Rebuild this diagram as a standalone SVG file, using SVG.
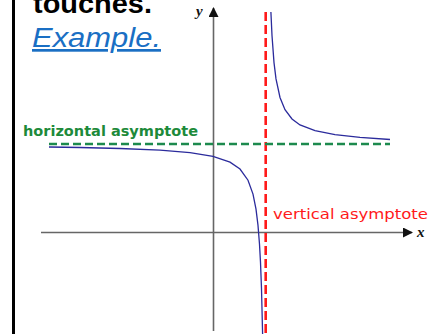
<svg xmlns="http://www.w3.org/2000/svg" width="441" height="334" viewBox="0 0 441 334">
<defs>
<style>
.axis{stroke:#666;stroke-width:1.6;fill:none}
.curve{stroke:#2b2b9c;stroke-width:1.3;fill:none}
.lbl{font-family:"DejaVu Sans",Verdana,sans-serif;font-size:13.5px}
.var{font-family:"Liberation Serif",serif;font-style:italic;font-weight:bold;font-size:15px;fill:#111}
</style>
<marker id="ah" viewBox="0 0 10 10" refX="9" refY="5" markerWidth="10" markerHeight="10" markerUnits="userSpaceOnUse" orient="auto">
<path d="M0,0 L10,5 L0,10 Z" fill="#111"/>
</marker>
</defs>
<rect width="441" height="334" fill="#fff"/>
<g id="border"><line x1="13.5" y1="0" x2="13.5" y2="334" stroke="#000" stroke-width="3"/></g>
<g id="heading">
<text x="33" y="13" font-family="'Liberation Sans',Arial,sans-serif" font-weight="bold" font-size="27" textLength="119" lengthAdjust="spacingAndGlyphs" fill="#000">touches.</text>
<text x="32" y="47" font-family="'Liberation Sans',Arial,sans-serif" font-style="italic" font-size="27" textLength="129" lengthAdjust="spacingAndGlyphs" fill="#1a6fc4" text-decoration="underline">Example.</text>
</g>
<g id="connectors">
<line id="y-axis" class="axis" x1="213.5" y1="331" x2="213.5" y2="8" marker-end="url(#ah)"/>
<line id="x-axis" class="axis" x1="41" y1="232.5" x2="412" y2="232.5" marker-end="url(#ah)"/>
<line id="v-asym" x1="265.7" y1="12" x2="265.7" y2="334" stroke="#ff1a1a" stroke-width="2.6" stroke-dasharray="9,4"/>
<line id="h-asym" x1="49" y1="144" x2="390" y2="144" stroke="#1d8a4e" stroke-width="2.3" stroke-dasharray="8,4"/>
</g>
<g id="curve">
<path class="curve" d="M49,147 L80,147.5 L120,148.5 L160,150.1 L190,152.6 L213,156.3 L230,162.1 L240,169 L248,180.2 L253,194.1 L256,209.1 L258,225.4 L259.5,244.2 L260.5,262.4 L261.5,288.7 L262.5,330 L262.6,334"/>
<path class="curve" d="M270.9,12 L272,35.5 L274,62.6 L276,78.9 L280,97.5 L285,109.7 L292,119 L300,124.9 L315,130.7 L335,134.6 L360,137.4 L390,139.5"/>
</g>
<g id="labels">
<text class="var" x="196" y="16">y</text>
<text class="var" x="417" y="237">x</text>
<text id="h-label" class="lbl" x="23" y="136" fill="#1d8a3a" font-weight="bold" textLength="175" lengthAdjust="spacingAndGlyphs">horizontal asymptote</text>
<text id="v-label" class="lbl" x="273" y="219" fill="#ff1a1a" textLength="155" lengthAdjust="spacingAndGlyphs">vertical asymptote</text>
</g>
</svg>
